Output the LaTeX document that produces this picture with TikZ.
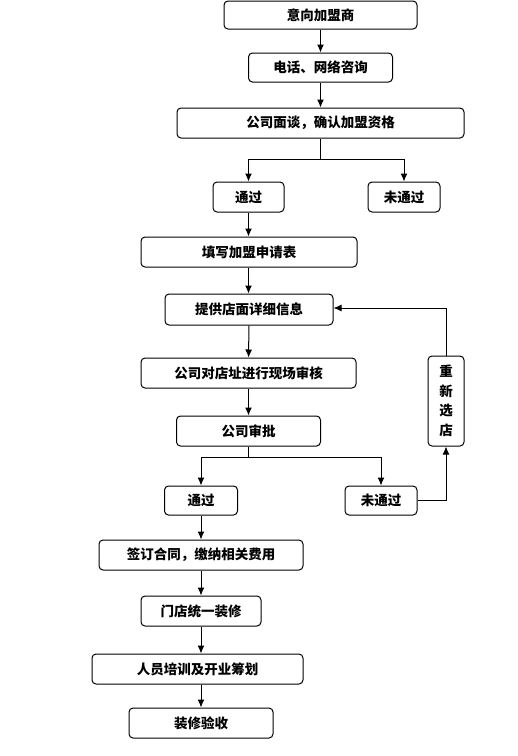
\documentclass[tikz,border=0pt]{standalone}
\usepackage{fontspec}
\setmainfont{Noto Sans CJK SC}
\usetikzlibrary{arrows.meta}
\begin{document}
\begin{tikzpicture}[x=1pt,y=-1pt,
  box/.style={draw=black, line width=1pt, rounded corners=4pt, inner sep=0pt,
    font=\fontsize{13.5}{20}\selectfont\bfseries, fill=white},
  conn/.style={line width=1pt, -{Latex[length=8pt,width=7pt]}},
  plain/.style={line width=1pt}]
\useasboundingbox[fill=white] (0,0) rectangle (518,756);
\node[box, minimum width=193pt, minimum height=28pt] (a1) at (320.5,15) {意向加盟商};
\node[box, minimum width=144pt, minimum height=29pt] (a2) at (320.5,67.5) {电话、网络咨询};
\node[box, minimum width=287pt, minimum height=30pt] (a3) at (320.5,123) {公司面谈，确认加盟资格};
\node[box, minimum width=71pt, minimum height=30pt] (p1) at (248.5,197) {通过};
\node[box, minimum width=72pt, minimum height=30pt] (f1) at (404,197) {未通过};
\node[box, minimum width=216pt, minimum height=30pt] (a4) at (249,252) {填写加盟申请表};
\node[box, minimum width=168pt, minimum height=31pt] (a5) at (249,309.5) {提供店面详细信息};
\node[box, minimum width=215pt, minimum height=30pt] (a6) at (248.5,373) {公司对店址进行现场审核};
\node[box, minimum width=144pt, minimum height=30pt] (a7) at (248.5,431) {公司审批};
\node[box, minimum width=36pt, minimum height=90pt, align=center] (r) at (446,401) {重\\[-0.5pt]新\\[-0.5pt]选\\[-0.5pt]店};
\node[box, minimum width=73pt, minimum height=29pt] (p2) at (201,500.5) {通过};
\node[box, minimum width=72pt, minimum height=29pt] (f2) at (381,500.5) {未通过};
\node[box, minimum width=204pt, minimum height=30pt] (a8) at (201,555) {签订合同，缴纳相关费用};
\node[box, minimum width=120pt, minimum height=30pt] (a9) at (201,611) {门店统一装修};
\node[box, minimum width=211pt, minimum height=30pt] (a10) at (197.5,669) {人员培训及开业筹划};
\node[box, minimum width=144pt, minimum height=30pt] (a11) at (201,723) {装修验收};
\coordinate (j1) at (320.5,159);
\coordinate (j2) at (248.5,457);
\coordinate (k1) at (446,308);
\draw[conn] (a1) -- (a2);
\draw[conn] (a2) -- (a3);
\draw[plain] (a3) -- (j1);
\draw[conn] (j1) -| (p1);
\draw[conn] (j1) -| (f1);
\draw[conn] (p1) -- (p1 |- a4.north);
\draw[conn] (a4.south -| p1) -- (a5.north -| p1);
\draw[conn] (a5) -- (a6);
\draw[conn] (a6) -- (a7);
\draw[plain] (a7) -- (j2);
\draw[conn] (j2) -| (p2);
\draw[conn] (j2) -| (f2);
\draw[conn] (p2) -- (a8);
\draw[conn] (a8) -- (a9);
\draw[conn] (a9.south) -- (a10.north -| a9);
\draw[conn] (a10.south -| a9) -- (a11);
\draw[conn] (f2.east) -| (r.south);
\draw[plain] (r.north) -- (k1);
\draw[conn] (k1) -- (k1 -| a5.east);
\end{tikzpicture}
\end{document}
